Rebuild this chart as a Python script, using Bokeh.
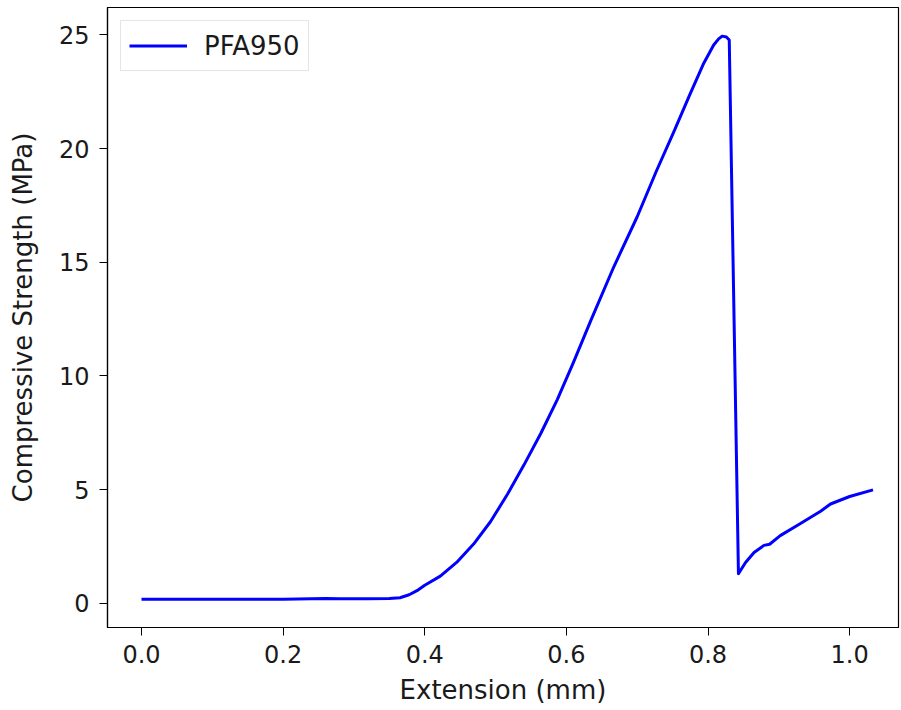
from bokeh.plotting import figure
from bokeh.models import Range1d, FixedTicker, PrintfTickFormatter, Legend, LegendItem
from bokeh.embed import file_html
from bokeh.resources import INLINE

# Data
extension_mm = [0.0, 0.10, 0.20, 0.24, 0.26, 0.28, 0.32, 0.35, 0.365, 0.378, 0.389, 0.40,
                0.422, 0.445, 0.469, 0.493, 0.517, 0.54, 0.564, 0.587, 0.61, 0.634, 0.667,
                0.700, 0.727, 0.752, 0.774, 0.794, 0.808, 0.815, 0.820, 0.826, 0.830, 0.843,
                0.853, 0.865, 0.879, 0.887, 0.902, 0.93, 0.959, 0.973, 1.0, 1.033]
strength_mpa = [0.18, 0.18, 0.18, 0.2, 0.22, 0.2, 0.2, 0.21, 0.25, 0.38, 0.56, 0.8,
                1.2, 1.8, 2.61, 3.6, 4.81, 6.08, 7.48, 8.95, 10.6, 12.4, 14.8,
                17.0, 19.0, 20.75, 22.35, 23.75, 24.55, 24.82, 24.94, 24.9, 24.77, 1.3,
                1.8, 2.24, 2.55, 2.6, 2.98, 3.5, 4.05, 4.37, 4.7, 4.99]
series_label = "PFA950"
x_ticks = [0.0, 0.2, 0.4, 0.6, 0.8, 1.0]
y_ticks = [0, 5, 10, 15, 20, 25]

FONT = "DejaVu Sans"
TXT = "#1a1a1a"

p = figure(width=901, height=710, output_backend="svg", toolbar_location=None,
           x_range=Range1d(-0.048, 1.069), y_range=Range1d(-1.06, 26.2),
           min_border_left=107, min_border_right=3, min_border_top=7, min_border_bottom=83)

r = p.line(extension_mm, strength_mpa, line_color="#0000ff", line_width=3,
           line_join="round")

p.xgrid.visible = False
p.ygrid.visible = False
p.outline_line_color = "black"
p.outline_line_width = 1.2
p.background_fill_color = "white"
p.border_fill_color = "white"

for ax in (p.xaxis[0], p.yaxis[0]):
    ax.axis_line_color = "black"
    ax.axis_line_width = 1.2
    ax.major_tick_line_color = "black"
    ax.major_tick_out = 8
    ax.major_tick_in = 0
    ax.minor_tick_line_color = None
    ax.major_label_text_font = FONT
    ax.major_label_text_font_size = "24px"
    ax.major_label_text_color = TXT
    ax.axis_label_text_font = FONT
    ax.axis_label_text_font_size = "26px"
    ax.axis_label_text_font_style = "normal"
    ax.axis_label_text_color = TXT

p.xaxis[0].ticker = FixedTicker(ticks=x_ticks)
p.xaxis[0].formatter = PrintfTickFormatter(format="%.1f")
p.xaxis[0].axis_label = "Extension (mm)"
p.xaxis[0].major_label_standoff = 9
p.xaxis[0].axis_label_standoff = 9

p.yaxis[0].ticker = FixedTicker(ticks=y_ticks)
p.yaxis[0].axis_label = "Compressive Strength (MPa)"
p.yaxis[0].major_label_standoff = 10
p.yaxis[0].axis_label_standoff = 18

legend = Legend(items=[LegendItem(label=series_label, renderers=[r])], location="top_left")
legend.margin = 13
legend.padding = 8
legend.glyph_width = 58
legend.glyph_height = 33
legend.label_height = 33
legend.label_standoff = 17
legend.label_text_font = FONT
legend.label_text_font_size = "26px"
legend.label_text_color = TXT
legend.border_line_color = "#cccccc"
legend.border_line_width = 1.2
legend.background_fill_alpha = 0.8
p.add_layout(legend)

open("out.html", "w").write(file_html(p, INLINE))
